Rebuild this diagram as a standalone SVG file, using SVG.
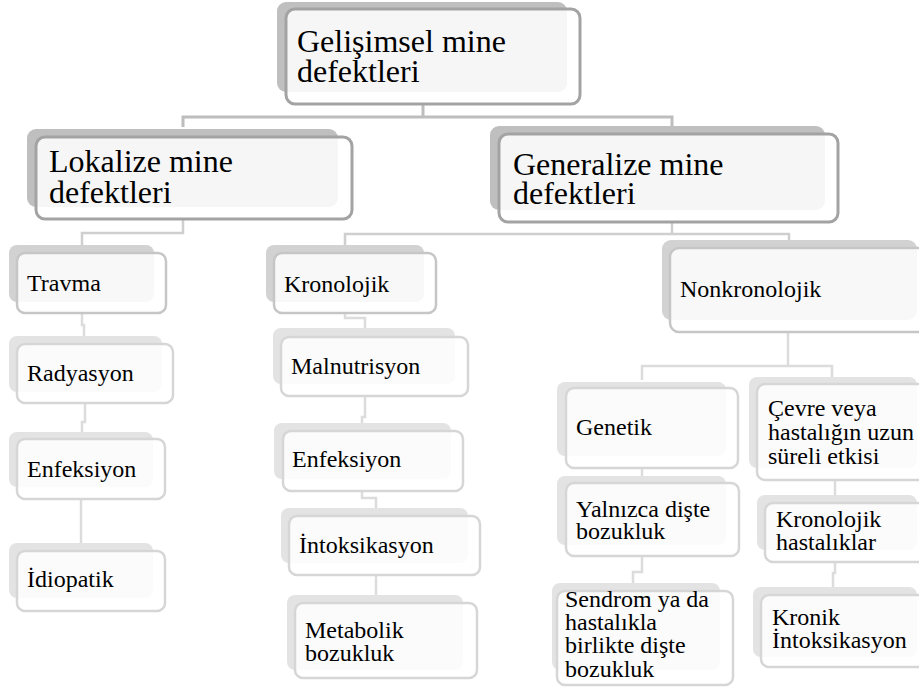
<svg xmlns="http://www.w3.org/2000/svg" width="919" height="688" viewBox="0 0 919 688">
<style>
.t1{font-family:'Liberation Serif','Times New Roman',Tinos,'Noto Serif','DejaVu Serif',FreeSerif,'Nimbus Roman',Times,serif;font-size:32px;fill:#000}
.t2{font-family:'Liberation Serif','Times New Roman',Tinos,'Noto Serif','DejaVu Serif',FreeSerif,'Nimbus Roman',Times,serif;font-size:24px;fill:#000}
.s1{fill:#bfbfbf}
.s2{fill:#d2d2d2}
.s3{fill:#e3e3e3}
.f1{fill:#fff;fill-opacity:0.85;stroke:#a3a3a3;stroke-width:3}
.f2{fill:#fff;fill-opacity:0.85;stroke:#c6c6c6;stroke-width:2.5}
.f3{fill:#fff;fill-opacity:0.85;stroke:#d6d6d6;stroke-width:2.5}
.c1{fill:none;stroke:#bdbdbd;stroke-width:3}
.c2{fill:none;stroke:#cfcfcf;stroke-width:2.5}
.c3{fill:none;stroke:#dcdcdc;stroke-width:2.5}
</style>
<rect width="919" height="688" fill="#fff"/>
<g id="connectors">
<path class="c1" d="M423,104 V117 M183,127 V117 H672 V127"/>
<path class="c2" d="M183,219 V233 H82 V245"/>
<path class="c3" d="M82,313 V325 H84 V336"/>
<path class="c3" d="M85,403 V422 H82 V432"/>
<path class="c3" d="M81,499 V543"/>
<path class="c2" d="M672,222 V234 M345,245 V234 H789 V242"/>
<path class="c3" d="M345,313 V318 H365 V328"/>
<path class="c3" d="M365,396 V417 H362 V423"/>
<path class="c3" d="M362,491 V498 H376 V508"/>
<path class="c3" d="M376,575 V595"/>
<path class="c3" d="M788,332 V366 M642,380 V366 H832 V377"/>
<path class="c3" d="M642,468 V476"/>
<path class="c3" d="M835,480 V495"/>
<path class="c3" d="M642,556 V572 H633 V583"/>
<path class="c3" d="M835,562 V573 H833 V587"/>
</g>
<g id="n-gelisimsel">
<rect class="s1" x="277" y="2" width="290" height="90" rx="9"/>
<rect class="f1" x="286" y="9" width="294" height="95" rx="9"/>
<text class="t1" x="297" y="52">Gelişimsel mine</text>
<text class="t1" x="297" y="82">defektleri</text>
</g>
<g id="n-lokalize">
<rect class="s1" x="27" y="129" width="311" height="78" rx="9"/>
<rect class="f1" x="36" y="137" width="316" height="82" rx="9"/>
<text class="t1" x="49" y="172">Lokalize mine</text>
<text class="t1" x="49" y="203">defektleri</text>
</g>
<g id="n-generalize">
<rect class="s1" x="490" y="126" width="335" height="84" rx="9"/>
<rect class="f1" x="499" y="134" width="339" height="88" rx="9"/>
<text class="t1" x="513" y="175">Generalize mine</text>
<text class="t1" x="513" y="204">defektleri</text>
</g>
<g id="n-travma">
<rect class="s2" x="9" y="245" width="145" height="57" rx="8"/>
<rect class="f2" x="17" y="253" width="149" height="60" rx="8"/>
<text class="t2" x="27" y="291">Travma</text>
</g>
<g id="n-radyasyon">
<rect class="s3" x="9" y="336" width="153" height="56" rx="8"/>
<rect class="f3" x="17" y="344" width="156" height="59" rx="8"/>
<text class="t2" x="27" y="381">Radyasyon</text>
</g>
<g id="n-enfeksiyon1">
<rect class="s3" x="9" y="432" width="144" height="55" rx="8"/>
<rect class="f3" x="17" y="439" width="148" height="60" rx="8"/>
<text class="t2" x="27" y="477">Enfeksiyon</text>
</g>
<g id="n-idiopatik">
<rect class="s3" x="9" y="543" width="144" height="55" rx="8"/>
<rect class="f3" x="17" y="551" width="148" height="60" rx="8"/>
<text class="t2" x="27" y="587">İdiopatik</text>
</g>
<g id="n-kronolojik">
<rect class="s2" x="266" y="245" width="158" height="57" rx="8"/>
<rect class="f2" x="274" y="253" width="162" height="60" rx="8"/>
<text class="t2" x="284" y="292">Kronolojik</text>
</g>
<g id="n-malnutrisyon">
<rect class="s3" x="273" y="328" width="182" height="56" rx="8"/>
<rect class="f3" x="281" y="337" width="187" height="59" rx="8"/>
<text class="t2" x="291" y="374">Malnutrisyon</text>
</g>
<g id="n-enfeksiyon2">
<rect class="s3" x="274" y="423" width="177" height="56" rx="8"/>
<rect class="f3" x="283" y="431" width="180" height="60" rx="8"/>
<text class="t2" x="292" y="467">Enfeksiyon</text>
</g>
<g id="n-intoksikasyon">
<rect class="s3" x="281" y="508" width="187" height="55" rx="8"/>
<rect class="f3" x="289" y="516" width="191" height="59" rx="8"/>
<text class="t2" x="299" y="553">İntoksikasyon</text>
</g>
<g id="n-metabolik">
<rect class="s3" x="287" y="595" width="176" height="75" rx="8"/>
<rect class="f3" x="295" y="603" width="182" height="75" rx="8"/>
<text class="t2" x="305" y="638">Metabolik</text>
<text class="t2" x="305" y="661">bozukluk</text>
</g>
<g id="n-nonkronolojik">
<rect class="s2" x="662" y="240" width="255" height="80" rx="9"/>
<rect class="f2" x="670" y="248" width="262" height="84" rx="9"/>
<text class="t2" x="680" y="297">Nonkronolojik</text>
</g>
<g id="n-genetik">
<rect class="s3" x="557" y="382" width="169" height="74" rx="8"/>
<rect class="f3" x="566" y="388" width="172" height="80" rx="8"/>
<text class="t2" x="576" y="435">Genetik</text>
</g>
<g id="n-cevre">
<rect class="s3" x="749" y="377" width="168" height="91" rx="8"/>
<rect class="f3" x="757" y="384" width="175" height="96" rx="8"/>
<text class="t2" x="768" y="416">Çevre veya</text>
<text class="t2" x="768" y="440">hastalığın uzun</text>
<text class="t2" x="768" y="464">süreli etkisi</text>
</g>
<g id="n-yalnizca">
<rect class="s3" x="557" y="476" width="169" height="69" rx="8"/>
<rect class="f3" x="566" y="483" width="173" height="73" rx="8"/>
<text class="t2" x="576" y="517">Yalnızca dişte</text>
<text class="t2" x="576" y="539">bozukluk</text>
</g>
<g id="n-kronolojik-hastaliklar">
<rect class="s3" x="757" y="495" width="160" height="55" rx="8"/>
<rect class="f3" x="765" y="503" width="170" height="59" rx="8"/>
<text class="t2" x="776" y="527">Kronolojik</text>
<text class="t2" x="776" y="550">hastalıklar</text>
</g>
<g id="n-sendrom">
<rect class="s3" x="552" y="583" width="168" height="87" rx="8"/>
<rect class="f3" x="557" y="591" width="176" height="94" rx="8"/>
<text class="t2" x="565" y="607">Sendrom ya da</text>
<text class="t2" x="565" y="630">hastalıkla</text>
<text class="t2" x="565" y="653">birlikte dişte</text>
<text class="t2" x="565" y="677">bozukluk</text>
</g>
<g id="n-kronik">
<rect class="s3" x="753" y="587" width="164" height="70" rx="8"/>
<rect class="f3" x="761" y="595" width="170" height="72" rx="8"/>
<text class="t2" x="772" y="625">Kronik</text>
<text class="t2" x="772" y="648">İntoksikasyon</text>
</g>
</svg>
